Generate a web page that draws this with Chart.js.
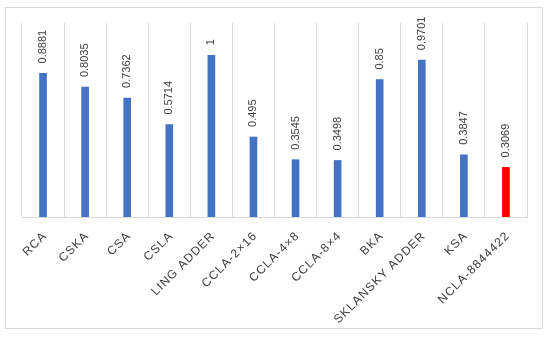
<!DOCTYPE html>
<html lang="en">
<head>
    <meta charset="UTF-8">
    <title>Adder comparison</title>
    <script src="https://cdn.jsdelivr.net/npm/chart.js"></script>
    <style>
        body { margin: 0; background: #fff; }
        #wrap { position: relative; width: 550px; height: 338px; }
        #frame {
            position: absolute; left: 5px; top: 7px; width: 536px; height: 320px;
            border: 1.5px solid #d9d9d9; pointer-events: none;
        }
    </style>
</head>
<body>
    <div id="wrap">
        <canvas id="chart" width="550" height="338"></canvas>
        <div id="frame"></div>
    </div>

    <script>
        const categories = ['RCA', 'CSKA', 'CSA', 'CSLA', 'LING ADDER', 'CCLA-2\u00d716', 'CCLA-4\u00d78',
            'CCLA-8\u00d74', 'BKA', 'SKLANSKY ADDER', 'KSA', 'NCLA-8844422'];
        const values = [0.8881, 0.8035, 0.7362, 0.5714, 1, 0.495, 0.3545, 0.3498, 0.85, 0.9701, 0.3847, 0.3069];
        const barColors = ['#4472c4', '#4472c4', '#4472c4', '#4472c4', '#4472c4', '#4472c4',
            '#4472c4', '#4472c4', '#4472c4', '#4472c4', '#4472c4', '#ff0000'];

        // rotated value labels above bars, and spaced category labels at 45 degrees
        const labelsPlugin = {
            id: 'labelsPlugin',
            afterDatasetsDraw(chart) {
                const ctx = chart.ctx;
                const meta = chart.getDatasetMeta(0);
                const xs = chart.scales.x;
                ctx.save();
                ctx.font = '11px Arial, "Liberation Sans", sans-serif';
                ctx.fillStyle = '#404040';
                ctx.textAlign = 'left';
                ctx.textBaseline = 'middle';
                meta.data.forEach((bar, i) => {
                    ctx.save();
                    ctx.translate(bar.x, bar.y - 10);
                    ctx.rotate(-Math.PI / 2);
                    ctx.fillText(String(values[i]), 0, 0);
                    ctx.restore();
                });

                ctx.font = '12px Arial, "Liberation Sans", sans-serif';
                ctx.letterSpacing = '1.1px';
                ctx.textAlign = 'right';
                categories.forEach((c, i) => {
                    ctx.save();
                    ctx.translate(xs.getPixelForValue(i) + 2, xs.top + 17);
                    ctx.rotate(-Math.PI / 4);
                    ctx.fillText(c, 0, 0);
                    ctx.restore();
                });
                ctx.restore();
            }
        };

        new Chart(document.getElementById('chart'), {
            type: 'bar',
            data: {
                labels: categories,
                datasets: [{
                    data: values,
                    backgroundColor: barColors,
                    barThickness: 7
                }]
            },
            options: {
                responsive: false,
                animation: false,
                layout: { padding: { left: 22, right: 23, top: 23, bottom: 0 } },
                plugins: { legend: { display: false }, tooltip: { enabled: false } },
                scales: {
                    x: {
                        grid: { color: '#d9d9d9', lineWidth: 1, drawTicks: false, offset: true },
                        border: { color: '#d9d9d9', width: 1 },
                        ticks: { display: false },
                        afterFit(scale) { scale.height = 121; }
                    },
                    y: { display: false, min: 0, max: 1.2 }
                }
            },
            plugins: [labelsPlugin]
        });
    </script>
</body>
</html>
